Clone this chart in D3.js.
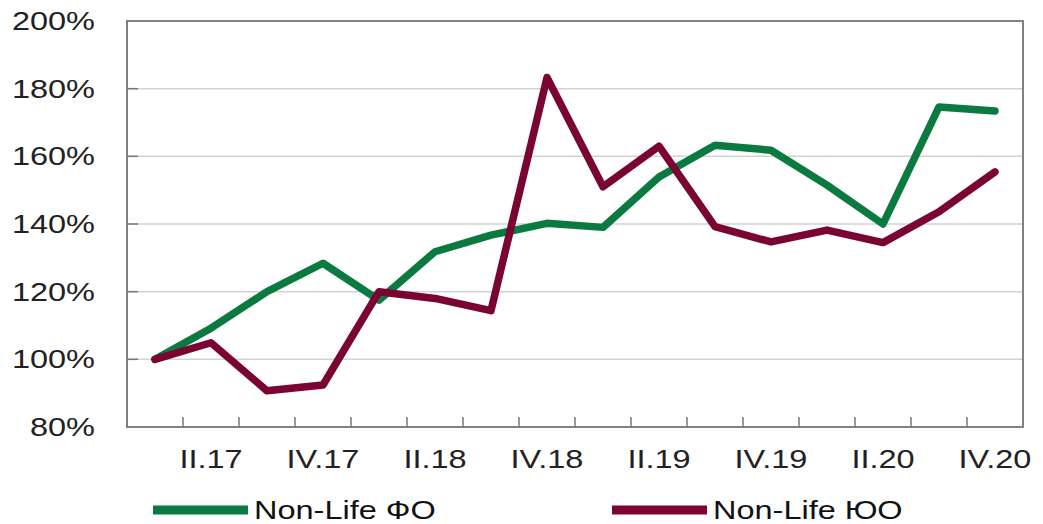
<!DOCTYPE html>
<html>
<head>
<meta charset="utf-8">
<script src="https://cdn.jsdelivr.net/npm/d3@7"></script>
<style>
  body { margin: 0; background: #fff; }
  text { font-family: "Liberation Sans", Arial, sans-serif; }
</style>
</head>
<body>
<div id="chart"></div>
<script>
const quarters = ['I.17', 'II.17', 'III.17', 'IV.17', 'I.18', 'II.18', 'III.18', 'IV.18',
                  'I.19', 'II.19', 'III.19', 'IV.19', 'I.20', 'II.20', 'III.20', 'IV.20'];
const xTickLabels = ['II.17', 'IV.17', 'II.18', 'IV.18', 'II.19', 'IV.19', 'II.20', 'IV.20'];
const yTicks = [80, 100, 120, 140, 160, 180, 200];

const nonLifeFO = [100, 109.2, 120, 128.4, 117.5, 131.8, 136.7, 140.2,
                   139, 153.9, 163.3, 161.8, 151.5, 140, 174.6, 173.4];
const nonLifeUO = [100, 104.9, 90.7, 92.4, 120, 118, 114.4, 183.3,
                   151, 163, 139.2, 134.7, 138.2, 134.5, 143.6, 155.4];

const seriesNames = ['Non-Life ФО', 'Non-Life ЮО'];
const seriesColors = ['#0b7a40', '#7a0532'];

const WIDTH = 1043, HEIGHT = 524;
const MARGIN = { TOP: 21, LEFT: 127, RIGHT: 20, BOTTOM: 97 };
const SX = 1.3; // text is drawn wide in the original

const svg = d3.select('#chart')
   .append('svg')
   .attr('width', WIDTH)
   .attr('height', HEIGHT);

const x = d3.scaleBand()
   .domain(quarters)
   .range([MARGIN.LEFT, WIDTH - MARGIN.RIGHT]);

const y = d3.scaleLinear()
   .domain([80, 200])
   .range([HEIGHT - MARGIN.BOTTOM, MARGIN.TOP]);

const x0 = MARGIN.LEFT, x1 = WIDTH - MARGIN.RIGHT;
const y0 = y(80), y1 = y(200);

// gridlines
svg.append('g')
   .selectAll('line')
   .data(yTicks.filter(d => d > 80 && d < 200))
   .enter().append('line')
   .attr('x1', x0).attr('x2', x1)
   .attr('y1', d => y(d)).attr('y2', d => y(d))
   .attr('stroke', '#cfd3d6')
   .attr('stroke-width', 1.5);

// y tick marks (inside)
svg.append('g')
   .selectAll('line')
   .data(yTicks)
   .enter().append('line')
   .attr('x1', x0).attr('x2', x0 + 11)
   .attr('y1', d => y(d)).attr('y2', d => y(d))
   .attr('stroke', '#777')
   .attr('stroke-width', 1.5);

// x tick marks at band boundaries
svg.append('g')
   .selectAll('line')
   .data(quarters.slice(1))
   .enter().append('line')
   .attr('x1', d => x(d)).attr('x2', d => x(d))
   .attr('y1', y0).attr('y2', y0 - 10)
   .attr('stroke', '#777')
   .attr('stroke-width', 1.5);

// frame
svg.append('rect')
   .attr('x', x0).attr('y', y1)
   .attr('width', x1 - x0).attr('height', y0 - y1)
   .attr('fill', 'none')
   .attr('stroke', '#808080')
   .attr('stroke-width', 2);

// y labels
svg.append('g')
   .selectAll('text')
   .data(yTicks)
   .enter().append('text')
   .attr('transform', d => `translate(95,${y(d) + 9}) scale(${SX},1)`)
   .attr('text-anchor', 'end')
   .attr('font-size', 25)
   .attr('fill', '#222')
   .text(d => d + '%');

// x labels
svg.append('g')
   .selectAll('text')
   .data(xTickLabels)
   .enter().append('text')
   .attr('transform', d => `translate(${x(d) + x.bandwidth() / 2},468) scale(${SX},1)`)
   .attr('text-anchor', 'middle')
   .attr('font-size', 25)
   .attr('fill', '#222')
   .text(d => d);

// lines
const line = d3.line()
   .x((d, i) => x(quarters[i]) + x.bandwidth() / 2)
   .y(d => y(d));

[nonLifeFO, nonLifeUO].forEach((vals, i) => {
   svg.append('path')
      .datum(vals)
      .attr('d', line)
      .attr('fill', 'none')
      .attr('stroke', seriesColors[i])
      .attr('stroke-width', 7.5)
      .attr('stroke-linejoin', 'round')
      .attr('stroke-linecap', 'round');
});

// legend
const legendX = [153, 612];
const legend = svg.append('g')
   .selectAll('g')
   .data(seriesNames)
   .enter().append('g')
   .attr('transform', (d, i) => `translate(${legendX[i]},510)`);

legend.append('line')
   .attr('x1', 0).attr('x2', 95)
   .attr('stroke', (d, i) => seriesColors[i])
   .attr('stroke-width', 9);

legend.append('text')
   .attr('transform', `translate(101,9) scale(${SX},1)`)
   .attr('font-size', 25)
   .attr('fill', '#111')
   .text(d => d);
</script>
</body>
</html>
